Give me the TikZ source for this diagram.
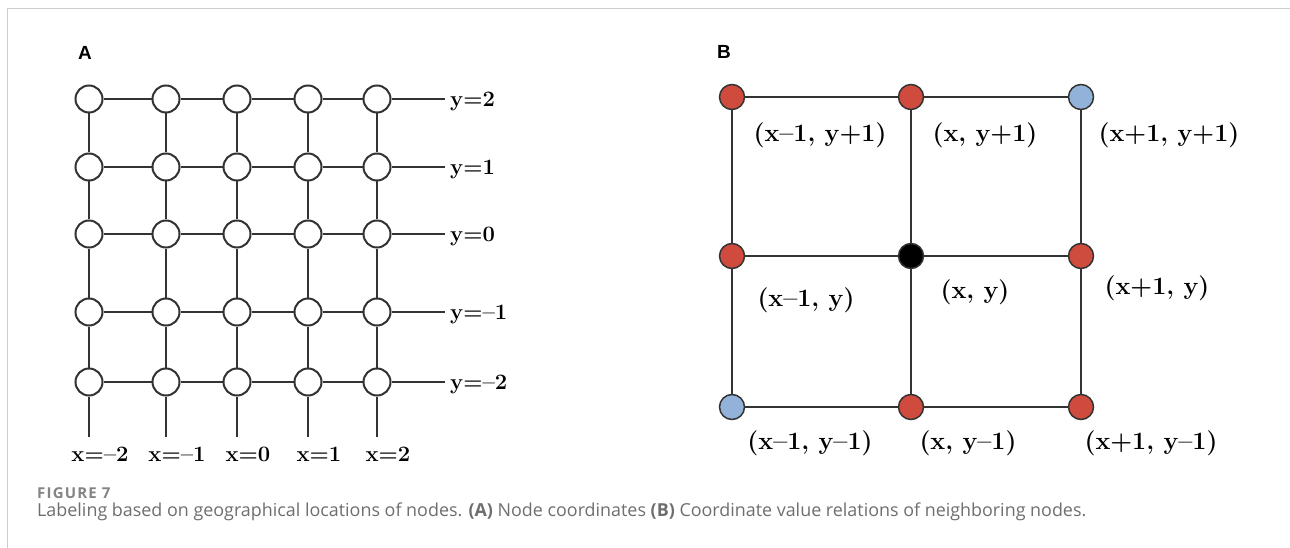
\documentclass[tikz,border=0pt]{standalone}
\usepackage{fontspec}
\newfontfamily\capfont{Open Sans}
\newfontfamily\panelfont{Liberation Sans}
\definecolor{gridline}{HTML}{333333}
\definecolor{nodered}{HTML}{CF4B3E}
\definecolor{nodeblue}{HTML}{93B2DA}
\definecolor{capgray}{HTML}{6E6E6E}
\definecolor{framegray}{HTML}{CDCDCD}
\tikzset{
	gridpt/.style = {circle, draw = gridline, line width = 2pt, fill = white, minimum size = 27pt, inner sep = 0pt},
	nbpt/.style = {circle, draw = gridline, line width = 1.5pt, minimum size = 25pt, inner sep = 0pt},
	link/.style = {draw = gridline, line width = 1.8pt},
	coordlabel/.style = {font = \fontsize{22}{26}\selectfont\bfseries, inner sep = 0pt},
	nblabel/.style = {font = \fontsize{25}{29}\selectfont\bfseries, inner sep = 0pt},
	paneltag/.style = {font = \panelfont\bfseries\fontsize{19}{21}\selectfont, inner sep = 0pt}
}
\begin{document}
\begin{tikzpicture}[x = 1pt, y = -1pt]
	\useasboundingbox (0, 0) rectangle (1290, 548);
	\draw[framegray, line width = 1.2pt] (1290, 8.5) -- (7.5, 8.5) -- (7.5, 548);

	% left: 5 x 5 lattice
	\node[paneltag] (tagA) at (85, 53) {A};
	\foreach \c/\x in {1/89, 2/166, 3/237, 4/308, 5/377} {
		\foreach \r/\y in {1/99, 2/167, 3/234, 4/312, 5/382} {
			\node[gridpt] (a-\r-\c) at (\x, \y) {};
		}
	}
	\foreach \r/\y/\lab in {1/99/y=2, 2/167/y=1, 3/234/y=0, 4/312/y=--1, 5/382/y=--2} {
		\coordinate (aend-\r) at (445, \y);
		\draw[link] (a-\r-1) -- (a-\r-2) -- (a-\r-3) -- (a-\r-4) -- (a-\r-5) -- (aend-\r);
		\node[coordlabel, anchor = west] (ylab-\r) at (450, \y + 2) {\lab};
	}
	\foreach \c/\x/\lab in {1/89/x=--2, 2/166/x=--1, 3/237/x=0, 4/308/x=1, 5/377/x=2} {
		\coordinate (abot-\c) at (\x, 437);
		\draw[link] (a-1-\c) -- (a-2-\c) -- (a-3-\c) -- (a-4-\c) -- (a-5-\c) -- (abot-\c);
		\node[coordlabel] (xlab-\c) at (\x + 11, 454) {\lab};
	}

	% right: neighbours of (x, y)
	\node[paneltag] (tagB) at (724, 52) {B};
	\node[nbpt, fill = nodered] (b-1-1) at (732, 97) {};
	\node[nbpt, fill = nodered] (b-1-2) at (911, 97) {};
	\node[nbpt, fill = nodeblue] (b-1-3) at (1081, 97) {};
	\node[nbpt, fill = nodered] (b-2-1) at (732, 256) {};
	\node[nbpt, fill = black] (b-2-2) at (911, 256) {};
	\node[nbpt, fill = nodered] (b-2-3) at (1081, 256) {};
	\node[nbpt, fill = nodeblue] (b-3-1) at (732, 407) {};
	\node[nbpt, fill = nodered] (b-3-2) at (911, 407) {};
	\node[nbpt, fill = nodered] (b-3-3) at (1081, 407) {};
	\foreach \i in {1, 2, 3} {
		\draw[link] (b-\i-1) -- (b-\i-2) -- (b-\i-3);
		\draw[link] (b-1-\i) -- (b-2-\i) -- (b-3-\i);
	}
	\node[nblabel] (lab-tl) at (820, 135) {(x--1, y+1)};
	\node[nblabel] (lab-tc) at (985, 135) {(x, y+1)};
	\node[nblabel] (lab-tr) at (1169, 135) {(x+1, y+1)};
	\node[nblabel] (lab-ml) at (806, 300) {(x--1, y)};
	\node[nblabel] (lab-mc) at (975, 292) {(x, y)};
	\node[nblabel] (lab-mr) at (1157, 288) {(x+1, y)};
	\node[nblabel] (lab-bl) at (810, 443) {(x--1, y--1)};
	\node[nblabel] (lab-bc) at (968, 443) {(x, y--1)};
	\node[nblabel] (lab-br) at (1151, 443) {(x+1, y--1)};

	% caption
	\node[anchor = base west, inner sep = 0pt, text = capgray!85, font = \capfont\bfseries\fontsize{15}{17}\selectfont\addfontfeatures{LetterSpace = 8}] (figno) at (37, 498) {FIGURE 7};
	\node[anchor = base west, inner sep = 0pt, text = capgray, font = \capfont\fontsize{17.9}{20}\selectfont] (caption) at (37, 516) {Labeling based on geographical locations of nodes. \textbf{(A)} Node coordinates \textbf{(B)} Coordinate value relations of neighboring nodes.};
\end{tikzpicture}
\end{document}
